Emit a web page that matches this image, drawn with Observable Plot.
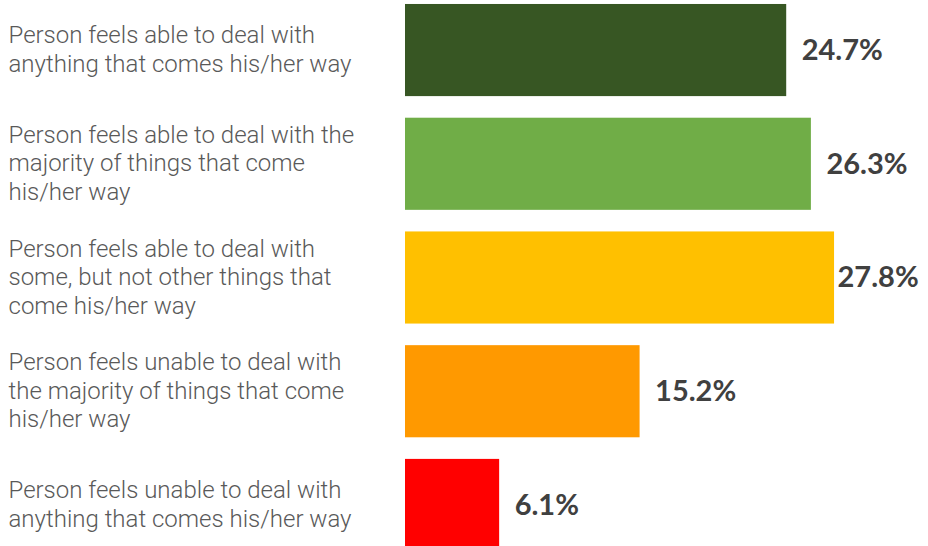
<!DOCTYPE html>
<html>
<head>
<meta charset="utf-8">
<script src="https://cdn.jsdelivr.net/npm/d3@7"></script>
<script src="https://cdn.jsdelivr.net/npm/@observablehq/plot@0.6"></script>
<style>
  html, body { margin: 0; padding: 0; background: #fff; overflow: hidden; }
  #chart svg { display: block; }
</style>
</head>
<body>
<div id="chart"></div>
<script>
const categories = [
  "Person feels able to deal with\nanything that comes his/her way",
  "Person feels able to deal with the\nmajority of things that come\nhis/her way",
  "Person feels able to deal with\nsome, but not other things that\ncome his/her way",
  "Person feels unable to deal with\nthe majority of things that come\nhis/her way",
  "Person feels unable to deal with\nanything that comes his/her way"
];
const values = [24.7, 26.3, 27.8, 15.2, 6.1];
const colors = ["#375623", "#70AD47", "#FFC000", "#FF9900", "#FF0000"];

const data = categories.map((c, i) => ({category: c, value: values[i], color: colors[i]}));
const maxVal = d3.max(values);

const chart = Plot.plot({
  width: 928,
  height: 555,
  marginLeft: 405,
  marginRight: 60,
  marginTop: 0,
  marginBottom: 0,
  x: {domain: [0, 30], axis: null},
  y: {domain: categories, axis: null, paddingInner: 0.19, paddingOuter: 0.035, round: false},
  marks: [
    Plot.barX(data, {x: "value", y: "category", fill: "color"}),
    Plot.text(data, {
      y: "category", text: "category", frameAnchor: "left", textAnchor: "start",
      dx: -397, dy: -2, fill: "#595959", fontSize: 24, fontWeight: 300, lineHeight: 1.19,
      fontFamily: "Roboto, sans-serif"
    }),
    Plot.text(data.filter(d => d.value !== maxVal), {
      x: "value", y: "category", text: d => d.value.toFixed(1) + "%",
      textAnchor: "start", dx: 15, fill: "#404040", fontSize: 29, fontWeight: "bold",
      fontFamily: "Lato, sans-serif"
    }),
    Plot.text(data.filter(d => d.value === maxVal), {
      x: "value", y: "category", text: d => d.value.toFixed(1) + "%",
      textAnchor: "start", dx: 3, fill: "#404040", fontSize: 29, fontWeight: "bold",
      fontFamily: "Lato, sans-serif"
    })
  ]
});
document.getElementById("chart").appendChild(chart);
</script>
</body>
</html>
